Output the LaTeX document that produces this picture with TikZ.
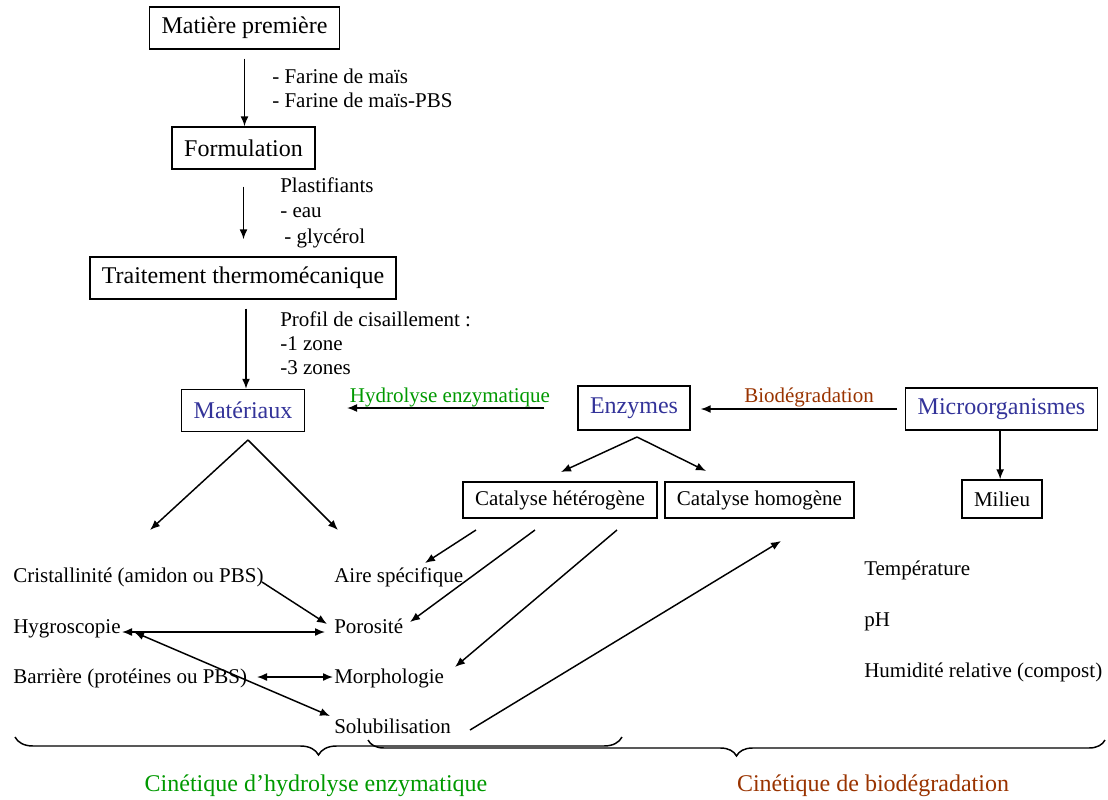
\documentclass[tikz,border=0pt]{standalone}
\usepackage{fontspec}
\setmainfont{Liberation Serif}
\usetikzlibrary{arrows.meta,decorations.pathreplacing}
\definecolor{blueC}{RGB}{51,51,153}
\definecolor{greenC}{RGB}{0,153,0}
\definecolor{brownC}{RGB}{153,51,0}
\begin{document}
\begin{tikzpicture}[x=0.75pt,y=-0.75pt,
  bigbox/.style={draw, line width=1.1pt, font=\fontsize{18}{21}\selectfont, inner xsep=9pt, inner ysep=0pt, minimum height=31.5pt},
  smallbox/.style={draw, line width=1.1pt, font=\fontsize{15.75}{19}\selectfont, inner xsep=9pt, inner ysep=0pt, minimum height=27pt},
  lbl/.style={font=\fontsize{15.75}{19}\selectfont, inner sep=0pt, anchor=base west},
  clbl/.style={font=\fontsize{15.75}{19}\selectfont, inner sep=0pt, anchor=base},
  arr/.style={-{Latex[length=7.5pt,width=6pt]}, line width=1.1pt},
  darr/.style={{Latex[length=7.5pt,width=6pt]}-{Latex[length=7.5pt,width=6pt]}, line width=1.1pt},
  brc/.style={line width=1.1pt, decorate}]
\useasboundingbox (0,0) rectangle (1108,800);

% boxes
\node[bigbox] (mp) at (244.5,28) {Matière première};
\node[bigbox] (form) at (243.5,148) {Formulation};
\node[bigbox] (tt) at (243,278) {Traitement thermomécanique};
\node[bigbox, text=blueC] (mat) at (243,410.5) {Matériaux};
\node[bigbox, text=blueC, minimum height=33pt] (enz) at (634,408) {Enzymes};
\node[bigbox, text=blueC] (micro) at (1001.5,409) {Microorganismes};
\node[smallbox, minimum height=28.5pt] (milieu) at (1002,499) {Milieu};
\node[smallbox] (chet) at (560,500) {Catalyse hétérogène};
\node[smallbox] (chom) at (759.5,500) {Catalyse homogène};

% side notes
\node[lbl] (n1) at (272,83) {- Farine de maïs};
\node[lbl] (n2) at (272,107) {- Farine de maïs-PBS};
\node[lbl] (p1) at (280,192) {Plastifiants};
\node[lbl] (p2) at (280,217) {- eau};
\node[lbl] (p3) at (284,243) {- glycérol};
\node[lbl] (c1) at (280,326) {Profil de cisaillement :};
\node[lbl] (c2) at (280,350) {-1 zone};
\node[lbl] (c3) at (280,374) {-3 zones};

\node[clbl, text=greenC] (hyd) at (450,402) {Hydrolyse enzymatique};
\node[clbl, text=brownC] (bio) at (809,402) {Biodégradation};

% property lists
\node[lbl] (crist) at (13,582) {Cristallinité (amidon ou PBS)};
\node[lbl] (hygro) at (13,633) {Hygroscopie};
\node[lbl] (barr) at (13,683) {Barrière (protéines ou PBS)};
\node[lbl] (aire) at (334,582) {Aire spécifique};
\node[lbl] (poro) at (334,633) {Porosité};
\node[lbl] (morph) at (334,683) {Morphologie};
\node[lbl] (solub) at (334,733) {Solubilisation};
\node[lbl] (temp) at (864,575) {Température};
\node[lbl] (ph) at (864,626) {pH};
\node[lbl] (hum) at (864,677) {Humidité relative (compost)};

\node[font=\fontsize{18}{21}\selectfont, text=greenC, anchor=base] (cin1) at (316,791) {Cinétique d’hydrolyse enzymatique};
\node[font=\fontsize{18}{21}\selectfont, text=brownC, anchor=base] (cin2) at (873,791) {Cinétique de biodégradation};

% helper coordinates
\coordinate (matL) at (150,530);
\coordinate (matR) at (338,530);
\coordinate (matA) at (248,440);
\coordinate (enzA) at (637,437);
\coordinate (enzL) at (561,472);
\coordinate (enzR) at (706,471);
\coordinate (h1) at (476,530);
\coordinate (h1e) at (425,563);
\coordinate (h2) at (535,530);
\coordinate (h2e) at (410,622);
\coordinate (h3) at (617,530);
\coordinate (h3e) at (455,667);
\coordinate (s1) at (470,730);
\coordinate (s1e) at (781,541);
\coordinate (cr1) at (262,582);
\coordinate (cr1e) at (327,624);
\coordinate (hy1) at (122,632);
\coordinate (hy1e) at (325,632);
\coordinate (hy2) at (134,632);
\coordinate (hy2e) at (330,716);
\coordinate (ba1) at (257,677);
\coordinate (ba1e) at (333,677);
\coordinate (b1l) at (15,737);
\coordinate (b1r) at (622,737);
\coordinate (b2l) at (368,740);
\coordinate (b2r) at (1105,740);

% main chain
\draw[arr, shorten <=6.75pt] (mp.south) -- (mp.south |- form.north);
\draw[arr, shorten <=12.75pt, shorten >=12.75pt] (form.south) -- (form.south |- tt.north);
\draw[arr, shorten <=6.75pt] ([xshift=2.25pt]tt.south) -- ([xshift=2.25pt]tt.south |- mat.north);
\draw[arr, shorten <=24.75pt, shorten >=31.5pt] (enz.west) -- (enz.west -| mat.east);
\draw[arr, shorten <=6pt, shorten >=7.5pt] (micro.west) -- (micro.west -| enz.east);
\draw[arr] ([xshift=-1pt]micro.south) -- ([xshift=-1pt]micro.south |- milieu.north);
\draw[arr] (enzA) -- (enzL);
\draw[arr] (enzA) -- (enzR);
\draw[arr] (matA) -- (matL);
\draw[arr] (matA) -- (matR);

% lower connectors
\draw[arr] (h1) -- (h1e);
\draw[arr] (h2) -- (h2e);
\draw[arr] (h3) -- (h3e);
\draw[arr] (s1) -- (s1e);
\draw[arr] (cr1) -- (cr1e);
\draw[darr] (hy1) -- (hy1e);
\draw[darr] (hy2) -- (hy2e);
\draw[darr] (ba1) -- (ba1e);

% braces
\draw[brc, decoration={brace, mirror, amplitude=13.5pt}] (b1l) -- (b1r);
\draw[brc, decoration={brace, mirror, amplitude=12pt}] (b2l) -- (b2r);
\end{tikzpicture}
\end{document}
